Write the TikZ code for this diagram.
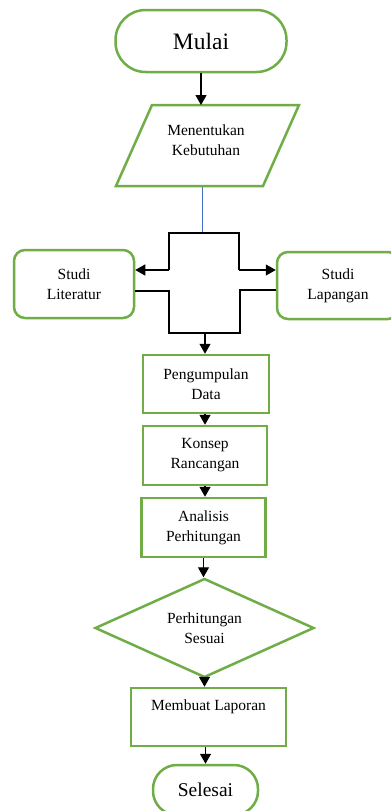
\documentclass[tikz,border=0pt]{standalone}
\usepackage{fontspec}
\setmainfont{Liberation Serif}
\usetikzlibrary{arrows.meta,shapes.geometric,calc}
\definecolor{flowgreen}{HTML}{70AD47}
\definecolor{flowblue}{HTML}{4472C4}
\begin{document}
\begin{tikzpicture}[x=1pt,y=-1pt,
  txt/.style={align=center, inner sep=0pt, font=\fontsize{15.5}{20}\selectfont},
  box/.style={txt, draw=flowgreen, line width=2.5pt, fill=white},
  greenline/.style={draw=flowgreen, line width=2.5pt, line join=miter},
  conn/.style={line width=1.3pt, draw=black},
  arr/.style={conn, -{Triangle[length=10pt,width=11pt]}}]
\useasboundingbox (0,0) rectangle (391,811);
\clip (0,0) rectangle (391,811);
\fill[white] (0,0) rectangle (391,811);
% terminal start
\node[box, minimum width=171pt, minimum height=62pt, rounded corners=30pt,
      font=\fontsize{23.5}{28}\selectfont] (mulai) at (201,41) {Mulai};
% parallelogram
\coordinate (pa) at (152,105);
\coordinate (pb) at (299,105);
\coordinate (pc) at (263,186);
\coordinate (pd) at (116,186);
\draw[greenline, fill=white] (pa) -- (pb) -- (pc) -- (pd) -- cycle;
\node[txt] (keb) at (206,140) {Menentukan\\Kebutuhan};
\coordinate (kt) at (202,105);
\coordinate (kb) at (202,187);
% studies
\node[box, minimum width=120pt, minimum height=68pt, rounded corners=11pt] (lit) at (74,284) {Studi\\Literatur};
\node[box, minimum width=122pt, minimum height=67pt, rounded corners=11pt] (lap) at (338,285.5) {Studi\\Lapangan};
% process boxes
\node[box, minimum width=126pt, minimum height=58pt] (peng) at (206,384) {Pengumpulan\\Data};
\node[box, minimum width=124pt, minimum height=59pt] (kons) at (205,455.5) {Konsep\\Rancangan};
\node[box, minimum width=124pt, minimum height=59pt] (anal) at (203.5,527.5) {Analisis\\Perhitungan};
% decision
\node[box, diamond, aspect=2.2, minimum width=219pt, minimum height=99pt] (dia) at (204.5,628) {Perhitungan\\Sesuai};
% report
\node[box, minimum width=155pt, minimum height=58pt] (lapor) at (208.5,717) {};
\node[txt] (lapt) at (208.5,707) {Membuat Laporan};
% end
\node[box, minimum width=105pt, minimum height=50pt, rounded corners=24pt,
      font=\fontsize{19.5}{24}\selectfont] (sel) at (205.5,790) {Selesai};
% connector coordinates
\coordinate (split) at (202,233);
\coordinate (sl) at (169,233);
\coordinate (sr) at (239,233);
\coordinate (al) at (169,270);
\coordinate (ar) at (239,270);
\coordinate (bl) at (169,291);
\coordinate (br) at (240,290);
\coordinate (ml) at (169,333);
\coordinate (mr) at (240,333);
\coordinate (merge) at (205,333);
% connectors
\draw[arr] (mulai.south) -- (mulai.south |- kt);
\draw[flowblue, line width=1pt] (kb) -- (split);
\draw[conn] (al) -- (sl) -- (sr) -- (ar);
\draw[arr] (al) -- (al -| lit.east);
\draw[arr] (ar) -- (ar -| lap.west);
\draw[conn] (bl -| lit.east) -- (bl) -- (ml) -- (mr) -- (br) -- (br -| lap.west);
\draw[arr] (merge) -- (merge |- peng.north);
\draw[arr] (peng.south -| merge) -- (merge |- kons.north);
\draw[arr] (kons.south -| merge) -- (merge |- anal.north);
\draw[arr] (anal.south) -- (anal.south |- dia.north);
\draw[arr] (dia.south) -- (dia.south |- lapor.north);
\draw[arr] (lapor.south -| sel.north) -- (sel.north);
\end{tikzpicture}
\end{document}
